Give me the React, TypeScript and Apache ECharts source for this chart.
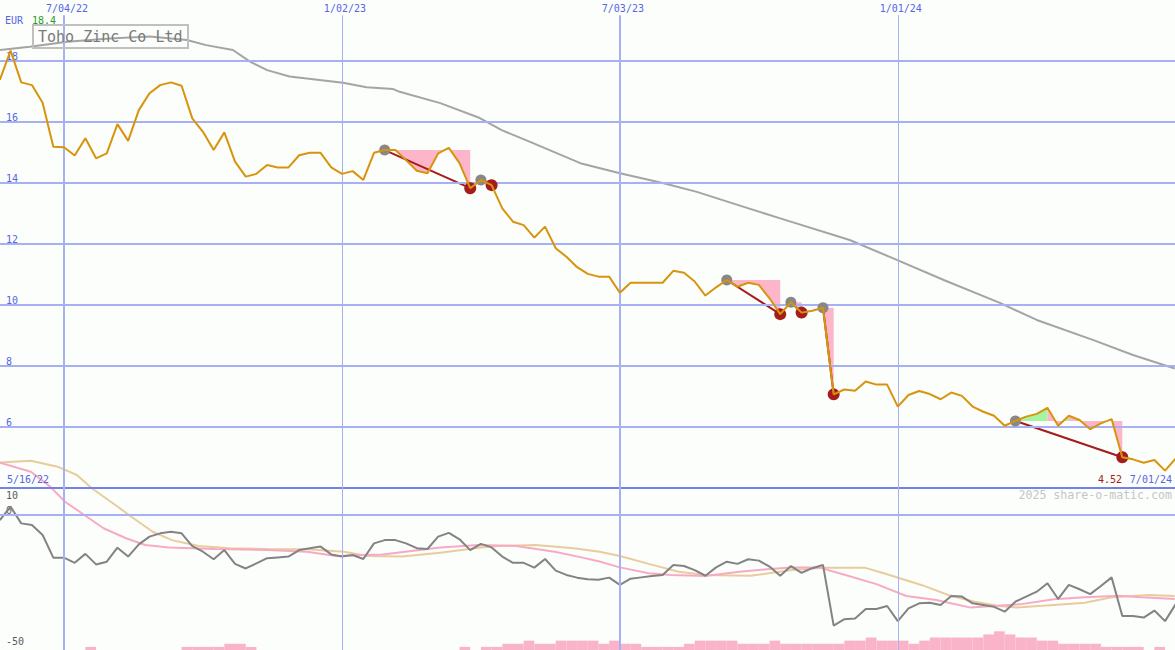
import React, { useEffect, useRef } from "react";
import * as echarts from "echarts";

// ---------- data (weekly, week 1 = first visible week) ----------
const FIRST_WEEK = 1;
const PRICE = [
  17.38, 18.34, 17.3, 17.21, 16.63, 15.19, 15.17, 14.9, 15.47, 14.81,
  14.97, 15.93, 15.38, 16.39, 16.94, 17.21, 17.3, 17.19, 16.12, 15.68,
  15.08, 15.66, 14.7, 14.21, 14.3, 14.59, 14.51, 14.51, 14.91, 14.99,
  14.99, 14.51, 14.3, 14.39, 14.1, 14.99, 15.08, 15.08, 14.75, 14.4,
  14.32, 14.97, 15.15, 14.65, 13.83, 14.1, 13.93, 13.17, 12.73, 12.62,
  12.21, 12.57, 11.86, 11.58, 11.24, 11.02, 10.93, 10.93, 10.4, 10.73,
  10.73, 10.73, 10.73, 11.12, 11.06, 10.77, 10.31, 10.58, 10.82, 10.6,
  10.73, 10.66, 10.22, 9.7, 10.09, 9.75, 9.81, 9.91, 7.07, 7.23,
  7.19, 7.49, 7.39, 7.39, 6.67, 7.05, 7.18, 7.08, 6.91, 7.13,
  7.02, 6.67, 6.5, 6.37, 6.04, 6.2, 6.34, 6.43, 6.63, 6.04,
  6.37, 6.23, 5.93, 6.12, 6.26, 5.01, 4.94, 4.83, 4.92, 4.57,
  4.97,
];
const PRICE_MA = [
  [1.0, 18.36], [3.8, 18.47], [7.3, 18.63], [11.3, 18.74], [15.0, 18.8],
  [18.5, 18.69], [20.3, 18.52], [22.8, 18.36], [24.4, 17.98], [26.0, 17.7],
  [28.1, 17.49], [33.1, 17.29], [35.3, 17.14], [37.8, 17.08], [38.4, 16.99],
  [42.2, 16.62], [45.9, 16.13], [47.9, 15.74], [50.6, 15.35], [55.3, 14.65],
  [59.0, 14.32], [63.1, 13.99], [66.2, 13.71], [70.3, 13.25], [74.0, 12.84],
  [80.5, 12.13], [84.9, 11.48], [89.3, 10.82], [94.6, 10.06], [98.0, 9.51],
  [103.3, 8.85], [107.0, 8.36], [110.9, 7.92],
];
const INDICATOR = [
  -1.9, 3.1, -3.1, -3.7, -7.4, -15.8, -15.8, -17.7, -14.4, -18.3,
  -17.3, -12.1, -15.4, -10.9, -8.0, -6.8, -6.2, -6.8, -11.5, -13.6,
  -16.4, -13.0, -18.1, -19.8, -17.9, -16.0, -15.7, -15.4, -13.0, -12.3,
  -11.7, -14.6, -15.4, -14.8, -16.3, -10.5, -9.3, -9.3, -10.5, -12.3,
  -12.6, -8.0, -6.6, -9.0, -13.0, -10.7, -12.0, -15.4, -17.7, -17.7,
  -19.5, -16.3, -20.6, -22.2, -23.2, -23.8, -24.0, -23.2, -25.9, -23.6,
  -23.1, -22.6, -22.2, -18.5, -18.9, -20.4, -22.5, -19.4, -17.3, -18.1,
  -16.4, -16.9, -19.1, -22.5, -18.9, -21.4, -19.7, -18.5, -41.0, -38.6,
  -38.3, -34.8, -34.8, -33.7, -39.3, -34.6, -32.7, -32.5, -33.3, -30.0,
  -30.2, -32.7, -33.3, -34.0, -35.8, -32.1, -30.2, -28.4, -25.3, -31.1,
  -25.9, -27.5, -29.3, -26.3, -23.1, -37.4, -37.4, -38.0, -35.4, -39.3,
  -33.0,
];
const IND_MA_FAST = [
  [1.0, 19.4], [3.9, 16.0], [5.7, 10.5], [7.1, 4.9], [8.9, 0], [10.7, -4.9],
  [12.8, -8.6], [14.6, -11.1], [16.8, -12.0], [21.1, -12.6], [26.1, -13.0],
  [29.7, -13.6], [32.5, -15.2], [35.0, -14.8], [36.8, -14.6], [39.7, -13.2],
  [42.2, -12.0], [45.8, -11.1], [49.3, -11.5], [52.9, -13.6], [55.3, -15.6],
  [57.1, -17.2], [59.0, -19.4], [61.7, -21.6], [63.8, -22.2], [67.0, -22.6],
  [70.2, -21.0], [73.0, -20.0], [75.1, -19.4], [77.6, -19.4], [80.1, -22.2],
  [83.0, -25.6], [85.8, -30.0], [88.6, -31.5], [91.8, -34.3], [94.3, -33.6],
  [96.4, -33.1], [99.6, -31.2], [102.5, -30.5], [105.7, -29.9], [107.8, -30.5],
  [110.9, -31.1],
];
const IND_MA_SLOW = [
  [1.0, 19.4], [3.9, 20.1], [6.4, 17.9], [8.2, 14.8], [9.6, 9.9], [11.8, 3.7],
  [13.5, -1.2], [15.3, -6.2], [17.1, -9.3], [19.6, -11.5], [22.5, -12.3],
  [26.1, -12.6], [29.7, -12.7], [33.2, -13.6], [35.4, -15.2], [38.6, -15.4],
  [42.2, -14.0], [45.8, -12.1], [47.6, -11.5], [51.1, -11.1], [54.7, -12.3],
  [57.1, -13.6], [59.0, -15.2], [61.7, -18.1], [64.5, -21.0], [67.0, -22.2],
  [71.2, -22.5], [75.1, -20.4], [78.0, -19.5], [81.9, -19.5], [83.7, -21.6],
  [87.2, -25.9], [89.7, -29.6], [92.2, -32.1], [94.3, -33.6], [96.1, -34.3],
  [99.6, -33.3], [102.5, -32.5], [105.0, -30.5], [108.5, -29.6], [110.9, -30.0],
];
const VOLUME = [
  0, 0, 0, 0, 0, 0, 0, 0, 1, 0,
  0, 0, 0, 0, 0, 0, 0, 1, 1, 1,
  1, 2, 2, 1, 0, 0, 0, 0, 0, 0,
  0, 0, 0, 0, 0, 0, 0, 0, 0, 0,
  0, 0, 0, 1, 0, 1, 1, 2, 2, 3,
  2, 2, 3, 3, 3, 3, 2, 3, 2, 2,
  1, 1, 1, 1, 2, 3, 3, 3, 3, 2,
  2, 2, 3, 2, 2, 2, 2, 2, 2, 3,
  3, 4, 3, 3, 3, 2, 3, 4, 4, 4,
  4, 4, 5, 6, 5, 4, 4, 3, 3, 2,
  2, 2, 2, 1, 1, 1, 1, 0, 1, 0,
  0,
];
const TRADE_START = [37, 46, 69, 75, 78, 96];
const TRADE_END = [45, 47, 74, 76, 79, 106];
const DATE_TICKS = [7, 33, 59, 85];
const DATE_LABELS = ["7/04/22", "1/02/23", "7/03/23", "1/01/24"];
const PRICE_TICKS = [6, 8, 10, 12, 14, 16, 18];
const IND_TICK_ZERO = [0];
const IND_TICK_BOTTOM = [-50];
const IND_TICK_TOP = [10];

// ---------- layout / style ----------
const X_MIN = 1.013;
const X_MAX = 110.93;
const MONO = "'DejaVu Sans Mono', monospace";
const BLUE = "#5566e4";
const GRID_BLUE = "#a6b0f2";
const DARK_BLUE = "#7482e6";
const ORANGE = "#d8940c";
const PINK_FILL = "#fdb6c9";
const GREEN_FILL = "#a4f4a0";
const RED = "#a51c1c";
const LOW_LABEL = "#5a5a5a";

const priceAt = (w: number) => PRICE[w - FIRST_WEEK];

// area between the entry level and the price: green on rising stretches above
// the entry level, pink everywhere else
function renderFill(_params: any, api: any) {
  const s = api.value(0);
  const e = api.value(1);
  const L = priceAt(s);
  const pieces: { xa: number; pa: number; xb: number; pb: number; green: boolean }[] = [];
  for (let k = s; k < e; k++) {
    const p = priceAt(k);
    const q = priceAt(k + 1);
    const rising = q > p;
    const parts: number[][] = [];
    if ((p - L) * (q - L) < 0) {
      const xc = k + (p - L) / (p - q);
      parts.push([k, p, xc, L], [xc, L, k + 1, q]);
    } else {
      parts.push([k, p, k + 1, q]);
    }
    for (const [xa, pa, xb, pb] of parts) {
      const above = (pa + pb) / 2 > L;
      pieces.push({ xa, pa, xb, pb, green: rising && above });
    }
  }
  const children: any[] = [];
  let run: typeof pieces = [];
  const flush = () => {
    if (!run.length) return;
    const pts = [api.coord([run[0].xa, L]), api.coord([run[0].xa, run[0].pa])];
    for (const pc of run) pts.push(api.coord([pc.xb, pc.pb]));
    pts.push(api.coord([run[run.length - 1].xb, L]));
    children.push({
      type: "polygon",
      shape: { points: pts },
      style: { fill: run[0].green ? GREEN_FILL : PINK_FILL },
    });
    run = [];
  };
  for (const pc of pieces) {
    if (run.length && run[0].green !== pc.green) flush();
    run.push(pc);
  }
  flush();
  return { type: "group", children };
}

function renderVolume(_params: any, api: any) {
  const w = api.value(0);
  const v = api.value(1);
  if (!v) return null;
  const a = api.coord([w, v]);
  const b = api.coord([w + 1, 0]);
  return {
    type: "rect",
    shape: { x: a[0], y: a[1], width: b[0] - a[0], height: b[1] - a[1] },
    style: { fill: "#f9b4c9" },
  };
}

function txt(x: number, y: number, text: string, fill: string, size: number, align = "left") {
  return {
    type: "text",
    x,
    y,
    silent: true,
    z: 100,
    style: { text, fill, font: `${size}px ${MONO}`, align, verticalAlign: "middle" },
  };
}

function lowAxis(values: number[], verticalAlign: string, padding: number[]) {
  return {
    type: "value",
    gridIndex: 1,
    min: -50,
    max: 10,
    position: "left",
    offset: 0,
    axisLine: { show: false },
    axisTick: { show: false },
    splitLine: { show: false },
    axisLabel: {
      inside: true,
      margin: 6,
      customValues: values,
      verticalAlign,
      padding,
      color: LOW_LABEL,
      fontSize: 10,
      fontFamily: MONO,
    },
  };
}

function buildOption() {
  const priceData = PRICE.map((p, k) => [FIRST_WEEK + k, p]);
  const indData = INDICATOR.map((v, k) => [FIRST_WEEK + k, v]);
  const volData = VOLUME.map((v, k) => [FIRST_WEEK + k, v]);
  const trades = TRADE_START.map((s, j) => [s, TRADE_END[j]]);
  const hidden = { show: false };
  const xCommon = {
    type: "value",
    min: X_MIN,
    max: X_MAX,
    axisLine: hidden,
    axisTick: hidden,
    splitLine: hidden,
  };
  const vWidth = (j: number) => (DATE_LABELS[j].startsWith("7/") ? 2 : 1);
  return {
    animation: false,
    backgroundColor: "#fbfefb",
    grid: [
      { left: 0, right: 0, top: 0, height: 488 },
      { left: 0, right: 0, top: 488, height: 162 },
    ],
    xAxis: [
      {
        ...xCommon,
        gridIndex: 0,
        position: "top",
        axisLabel: {
          show: true,
          inside: true,
          margin: 3,
          padding: [0, 0, 0, 6],
          customValues: DATE_TICKS,
          formatter: (v: number) => DATE_LABELS[DATE_TICKS.indexOf(v)] ?? "",
          color: BLUE,
          fontSize: 10,
          fontFamily: MONO,
        },
      },
      { ...xCommon, gridIndex: 1, axisLabel: hidden },
    ],
    yAxis: [
      {
        type: "value",
        gridIndex: 0,
        min: 4,
        max: 20,
        position: "left",
        axisLine: hidden,
        axisTick: hidden,
        splitLine: hidden,
        axisLabel: {
          inside: true,
          margin: 6,
          customValues: PRICE_TICKS,
          verticalAlign: "bottom",
          color: BLUE,
          fontSize: 10,
          fontFamily: MONO,
        },
      },
      lowAxis(IND_TICK_ZERO, "bottom", [0, 0, 0, 0]),
      lowAxis(IND_TICK_TOP, "top", [2, 0, 0, 0]),
      { type: "value", gridIndex: 1, min: 0, max: 52, show: false, splitLine: hidden },
      lowAxis(IND_TICK_BOTTOM, "bottom", [0, 0, 4, 0]),
    ],
    graphic: [
      txt(5, 20, "EUR", BLUE, 10),
      txt(32, 20, "18.4", "#2c9c2c", 10),
      {
        type: "rect",
        z: 100,
        silent: true,
        shape: { x: 33, y: 25, width: 155, height: 23 },
        style: { fill: "none", stroke: "#c0c0c0", lineWidth: 2 },
      },
      txt(38, 37, "Toho Zinc Co Ltd", "#7a7a7a", 15),
      txt(7, 479, "5/16/22", BLUE, 10),
      txt(1122, 479, "4.52", RED, 10, "right"),
      txt(1172, 479, "7/01/24", BLUE, 10, "right"),
      txt(1172, 495, "2025 share-o-matic.com", "#c6c6c6", 11.6, "right"),
    ],
    series: [
      {
        type: "line",
        xAxisIndex: 0,
        yAxisIndex: 0,
        data: priceData,
        showSymbol: false,
        lineStyle: { opacity: 0 },
        silent: true,
        z: 1,
        markLine: {
          silent: true,
          symbol: ["none", "none"],
          label: { show: false },
          data: [
            ...PRICE_TICKS.map((v) => ({ yAxis: v, lineStyle: { color: GRID_BLUE, width: 2, type: "solid" } })),
            { yAxis: 4, lineStyle: { color: DARK_BLUE, width: 2, type: "solid" } },
            ...DATE_TICKS.map((t, j) => [
              { coord: [t, 19.5], lineStyle: { color: GRID_BLUE, width: vWidth(j), type: "solid" } },
              { coord: [t, 4] },
            ]),
          ],
        },
      },
      {
        type: "line",
        xAxisIndex: 1,
        yAxisIndex: 1,
        data: indData,
        showSymbol: false,
        lineStyle: { opacity: 0 },
        silent: true,
        z: 1,
        markLine: {
          silent: true,
          symbol: ["none", "none"],
          label: { show: false },
          data: [
            { yAxis: 0, lineStyle: { color: GRID_BLUE, width: 2, type: "solid" } },
            ...DATE_TICKS.map((t, j) => ({
              xAxis: t,
              lineStyle: { color: GRID_BLUE, width: vWidth(j), type: "solid" },
            })),
          ],
        },
      },
      {
        type: "custom",
        xAxisIndex: 0,
        yAxisIndex: 0,
        data: trades,
        renderItem: renderFill,
        silent: true,
        z: 2,
      },
      {
        type: "line",
        xAxisIndex: 0,
        yAxisIndex: 0,
        data: PRICE_MA,
        showSymbol: false,
        lineStyle: { color: "#a4a4a4", width: 2 },
        silent: true,
        z: 3,
      },
      {
        type: "lines",
        coordinateSystem: "cartesian2d",
        xAxisIndex: 0,
        yAxisIndex: 0,
        data: trades.map(([s, e]) => ({ coords: [[s, priceAt(s)], [e, priceAt(e)]] })),
        lineStyle: { color: RED, width: 2, opacity: 1 },
        silent: true,
        z: 4,
      },
      {
        type: "scatter",
        xAxisIndex: 0,
        yAxisIndex: 0,
        data: TRADE_START.map((s) => [s, priceAt(s)]),
        symbolSize: 11,
        itemStyle: { color: "#888888", opacity: 1 },
        silent: true,
        z: 5,
      },
      {
        type: "scatter",
        xAxisIndex: 0,
        yAxisIndex: 0,
        data: TRADE_END.map((e) => [e, priceAt(e)]),
        symbolSize: 12,
        itemStyle: { color: RED, opacity: 1 },
        silent: true,
        z: 5,
      },
      {
        type: "line",
        xAxisIndex: 0,
        yAxisIndex: 0,
        data: priceData,
        showSymbol: false,
        lineStyle: { color: ORANGE, width: 2 },
        silent: true,
        z: 6,
      },
      {
        type: "custom",
        xAxisIndex: 1,
        yAxisIndex: 3,
        data: volData,
        renderItem: renderVolume,
        silent: true,
        z: 2,
      },
      {
        type: "line",
        xAxisIndex: 1,
        yAxisIndex: 1,
        data: IND_MA_SLOW,
        showSymbol: false,
        clip: false,
        lineStyle: { color: "#e8cc9c", width: 2 },
        silent: true,
        z: 3,
      },
      {
        type: "line",
        xAxisIndex: 1,
        yAxisIndex: 1,
        data: IND_MA_FAST,
        showSymbol: false,
        clip: false,
        lineStyle: { color: "#f8aac4", width: 2 },
        silent: true,
        z: 3,
      },
      {
        type: "line",
        xAxisIndex: 1,
        yAxisIndex: 1,
        data: indData,
        showSymbol: false,
        clip: false,
        lineStyle: { color: "#838383", width: 2 },
        silent: true,
        z: 4,
      },
    ],
  };
}

export default function App() {
  const ref = useRef<HTMLDivElement>(null);
  useEffect(() => {
    if (!ref.current) return;
    const chart = echarts.init(ref.current, undefined, { renderer: "svg" });
    chart.setOption(buildOption() as any);
    return () => chart.dispose();
  }, []);
  return (
    <div
      ref={ref}
      style={{ position: "fixed", left: 0, top: 0, width: 1175, height: 650 }}
    />
  );
}
